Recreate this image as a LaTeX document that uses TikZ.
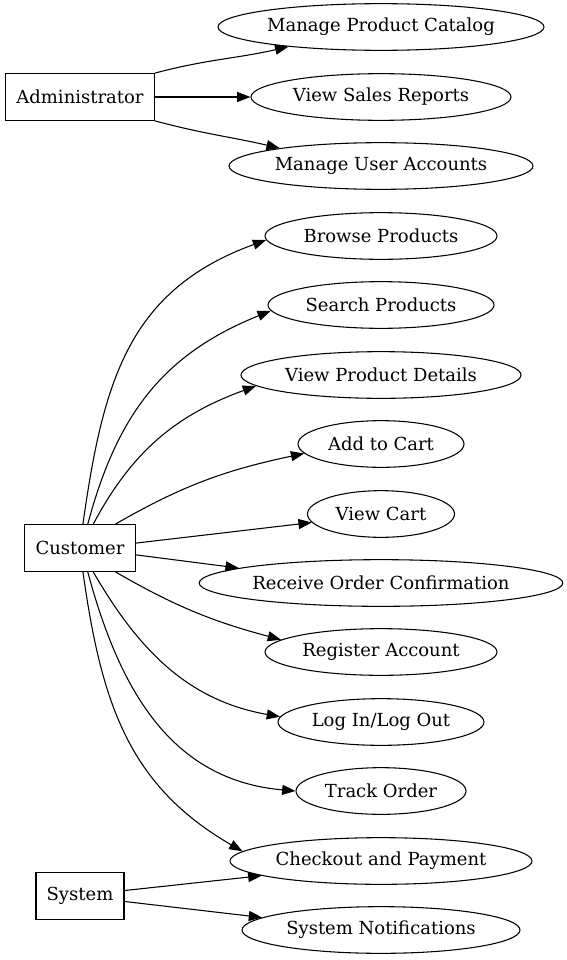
\documentclass[tikz,border=0pt]{standalone}
\usepackage{fontspec}
\setmainfont{DejaVu Serif}
\usetikzlibrary{arrows.meta,shapes.geometric}
\begin{document}
\begin{tikzpicture}[x=0.75pt,y=-0.75pt,
	actor/.style={rectangle,draw,line width=0.8pt,inner xsep=8pt,minimum height=35pt},
	usecase/.style={ellipse,draw,line width=0.8pt,inner xsep=0pt,minimum height=35pt,minimum width=#1*0.75pt},
	every node/.style={font=\fontsize{13.5pt}{16pt}\selectfont},
	link/.style={-{Triangle[length=10pt,width=7.5pt]},line width=0.8pt}]
\useasboundingbox (0,0) rectangle (567,960);
% actors
\node[actor](admin) at (80,97) {Administrator};
\node[actor](cust) at (80,548) {Customer};
\node[actor](sys) at (80,896) {System};
% use cases
\node[usecase=326](catalog) at (381,27) {Manage Product Catalog};
\node[usecase=260](sales) at (381,97) {View Sales Reports};
\node[usecase=304](users) at (381,166) {Manage User Accounts};
\node[usecase=232](browse) at (381,236) {Browse Products};
\node[usecase=226](search) at (381,305) {Search Products};
\node[usecase=280](details) at (381,375) {View Product Details};
\node[usecase=166](addcart) at (381,444) {Add to Cart};
\node[usecase=147](viewcart) at (381,514) {View Cart};
\node[usecase=362](confirm) at (381,583) {Receive Order Confirmation};
\node[usecase=232](register) at (381,652) {Register Account};
\node[usecase=206](login) at (381,722) {Log In/Log Out};
\node[usecase=170](track) at (381,791) {Track Order};
\node[usecase=302](checkout) at (381,861) {Checkout and Payment};
\node[usecase=278](notify) at (381,930) {System Notifications};
% administrator
\draw[link] (admin.north east) to[out=15,in=193] (catalog.192);
\draw[link] (admin) -- (sales);
\draw[link] (admin.south east) to[out=-15,in=167] (users.170);
% customer
\draw[link] (cust.83) to[out=82,in=200,looseness=1.1] (browse.182);
\draw[link] (cust.72) to[out=75,in=202,looseness=1.05] (search.183);
\draw[link] (cust.61) to[out=62,in=200] (details.185);
\draw[link] (cust.34) to[out=30,in=192] (addcart.187);
\draw[link] (cust.5) -- (viewcart.187);
\draw[link] (cust.-7) -- (confirm.174);
\draw[link] (cust.-34) to[out=-30,in=165] (register.173);
\draw[link] (cust.-61) to[out=-60,in=170] (login.177);
\draw[link] (cust.-72) to[out=-75,in=175,looseness=1.05] (track.west);
\draw[link] (cust.-83) to[out=-82,in=150,looseness=1.05] (checkout.176);
% system
\draw[link] (sys.7) -- (checkout.187);
\draw[link] (sys.-7) -- (notify.174);
\end{tikzpicture}
\end{document}
